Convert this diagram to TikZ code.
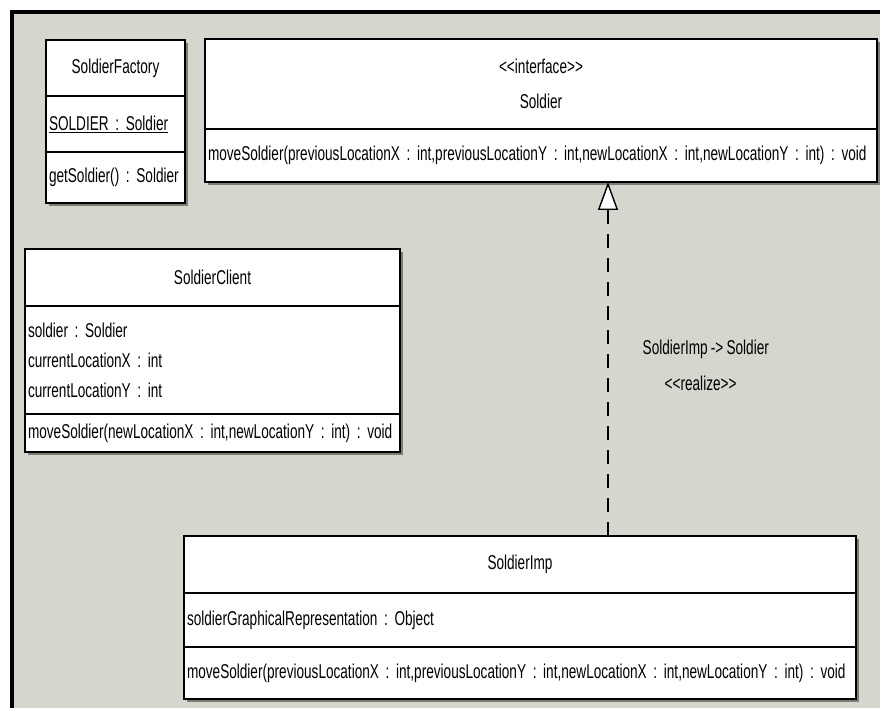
\documentclass[tikz,border=0pt]{standalone}
\usepackage{fontspec}
\setmainfont[FakeStretch=0.68, WordSpace=0.85]{Liberation Sans}
\usetikzlibrary{arrows.meta, positioning, backgrounds}
\definecolor{umlbg}{RGB}{214,214,206}
\definecolor{umlshadow}{RGB}{125,125,120}
\newcommand{\stereo}[1]{<\kern0pt<#1>\kern0pt>}

\begin{document}
\begin{tikzpicture}[
  x=1pt, y=-1pt,
  font=\fontsize{20}{22}\selectfont\frenchspacing,
  part/.style={draw=black, line width=1.6pt, fill=white, inner xsep=3pt, inner ysep=0pt, outer sep=0pt},
  cname/.style={part, align=center},
  cbody/.style={part, align=left},
  realize/.style={-{Triangle[fill=white, length=28pt, width=20pt]}, line width=1.4pt, dash pattern=on 14pt off 10pt},
  lab/.style={align=left, inner sep=3pt, font=\fontsize{20}{36}\selectfont\frenchspacing},
  shade/.style={fill=umlshadow}
]
\useasboundingbox (0,0) rectangle (880,708);

% SoldierFactory
\node[cname, text width=133pt, minimum height=56pt, anchor=north west] (fac-name) at (46,40) {SoldierFactory};
\node[cbody, text width=133pt, minimum height=56pt, below=0pt of fac-name] (fac-attr) {\underline{SOLDIER : Soldier}};
\node[cbody, text width=133pt, minimum height=51pt, below=0pt of fac-attr] (fac-op) {\mbox{getSoldier() : Soldier}};

% Soldier interface
\node[cname, text width=666pt, minimum height=90pt, anchor=north west, font=\fontsize{20}{35}\selectfont\frenchspacing] (sol-name) at (205,39) {\stereo{interface}\\Soldier};
\node[cbody, text width=666pt, minimum height=53pt, below=0pt of sol-name] (sol-op) {\mbox{moveSoldier(previousLocationX : int,previousLocationY : int,newLocationX : int,newLocationY : int) : void}};

% SoldierClient
\node[cname, text width=369pt, minimum height=57pt, anchor=north west] (cli-name) at (25,249) {SoldierClient};
\node[cbody, text width=369pt, minimum height=108pt, below=0pt of cli-name, font=\fontsize{20}{30}\selectfont\frenchspacing] (cli-attr) {soldier : Soldier\\currentLocationX : int\\currentLocationY : int};
\node[cbody, text width=369pt, minimum height=38pt, below=0pt of cli-attr] (cli-op) {\mbox{moveSoldier(newLocationX : int,newLocationY : int) : void}};

% SoldierImp
\node[cname, text width=666pt, minimum height=57pt, anchor=north west] (imp-name) at (184,536) {SoldierImp};
\node[cbody, text width=666pt, minimum height=54pt, below=0pt of imp-name] (imp-attr) {soldierGraphicalRepresentation : Object};
\node[cbody, text width=666pt, minimum height=52pt, below=0pt of imp-attr] (imp-op) {\mbox{moveSoldier(previousLocationX : int,previousLocationY : int,newLocationX : int,newLocationY : int) : void}};

% Realization
\coordinate (rx) at (608,0);
\draw[realize] (imp-name.north -| rx) -- (sol-op.south -| rx)
  node[lab, midway, right=31pt, yshift=-6pt] (real-lab) {SoldierImp -> Soldier\\\hspace*{22pt}\stereo{realize}};

% frame and shadows
\begin{scope}[on background layer]
  \fill[white] (0,0) rectangle (880,708);
  \fill[umlbg] (12,12) rectangle (880,708);
  \draw[line width=4pt] (12,708) -- (12,12) -- (880,12);
  \fill[shade] ([shift={(3,3)}]fac-name.north west) rectangle ([shift={(3,3)}]fac-op.south east);
  \fill[shade] ([shift={(3,3)}]sol-name.north west) rectangle ([shift={(3,3)}]sol-op.south east);
  \fill[shade] ([shift={(3,3)}]cli-name.north west) rectangle ([shift={(3,3)}]cli-op.south east);
  \fill[shade] ([shift={(3,3)}]imp-name.north west) rectangle ([shift={(3,3)}]imp-op.south east);
\end{scope}

\end{tikzpicture}
\end{document}
